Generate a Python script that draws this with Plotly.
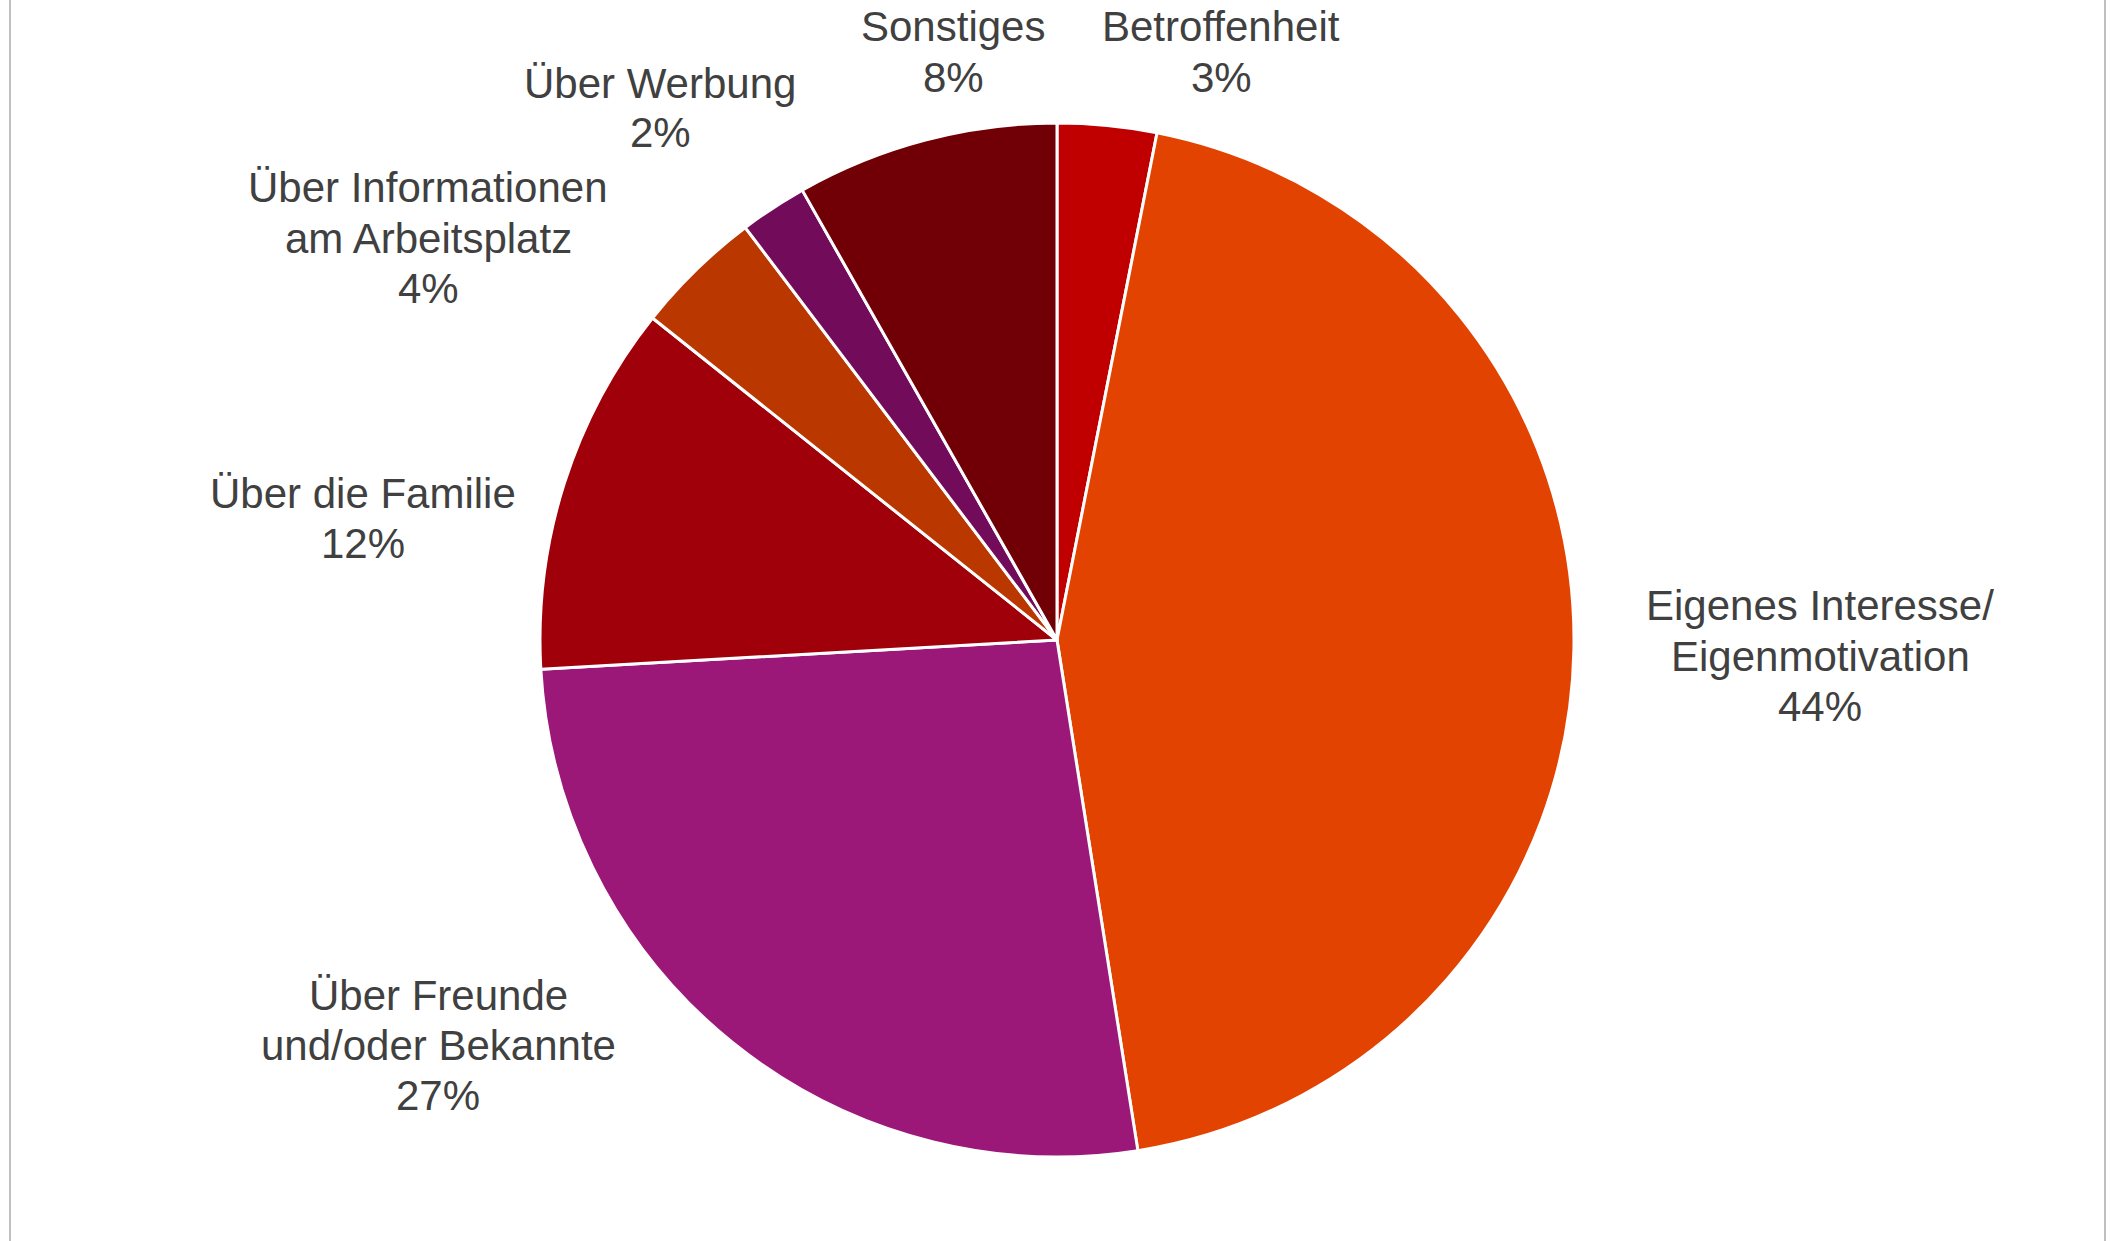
import plotly.graph_objects as go

# ---- data ----
labels = [
    "Betroffenheit",
    "Eigenes Interesse/<br>Eigenmotivation",
    "Über Freunde<br>und/oder Bekannte",
    "Über die Familie",
    "Über Informationen<br>am Arbeitsplatz",
    "Über Werbung",
    "Sonstiges",
]
values = [3.1, 44.4, 26.6, 11.6, 4.0, 2.1, 8.2]
colors = ["#C00000", "#E24300", "#9C1878", "#A0000A", "#BA3700", "#720C5A", "#700005"]

# label anchor positions in page pixels (layout only)
label_pos = [
    (1221, 52),
    (1820, 656),
    (438, 1045),
    (363, 518),
    (428, 238),
    (660, 108),
    (953, 52),
]

W, H = 2111, 1241
cx, cy, R = 1057, 640, 517
LINE = 50
FONT = dict(family="Liberation Sans, Arial, sans-serif", size=42, color="#404040")

fig = go.Figure(
    go.Pie(
        labels=labels,
        values=values,
        sort=False,
        direction="clockwise",
        rotation=0,
        marker=dict(colors=colors, line=dict(color="white", width=3)),
        textinfo="none",
        hoverinfo="label+percent",
        showlegend=False,
        domain=dict(
            x=[(cx - R) / W, (cx + R) / W],
            y=[(H - cy - R) / H, (H - cy + R) / H],
        ),
    )
)

total = sum(values)
annotations = []
for lab, v, (px, py) in zip(labels, values, label_pos):
    pct = int(v / total * 100 + 0.5)
    lines = lab.split("<br>") + [f"{pct}%"]
    n = len(lines)
    for i, line in enumerate(lines):
        ly = py + (i - (n - 1) / 2) * LINE
        annotations.append(
            dict(
                text=line,
                x=px / W,
                y=1 - ly / H,
                xref="paper",
                yref="paper",
                xanchor="center",
                yanchor="middle",
                align="center",
                showarrow=False,
                font=FONT,
            )
        )

shapes = [
    dict(type="line", xref="paper", yref="paper", x0=10 / W, x1=10 / W, y0=0, y1=1,
         line=dict(color="#BFBFBF", width=2)),
    dict(type="line", xref="paper", yref="paper", x0=2105 / W, x1=2105 / W, y0=0, y1=1,
         line=dict(color="#BFBFBF", width=2)),
]

fig.update_layout(
    width=W,
    height=H,
    margin=dict(l=0, r=0, t=0, b=0),
    paper_bgcolor="white",
    plot_bgcolor="white",
    annotations=annotations,
    shapes=shapes,
    font=dict(family="Liberation Sans, Arial, sans-serif", color="#404040"),
)

fig.write_html(
    "out.html",
    config={"displayModeBar": False},
    post_script="document.body.style.margin='0';document.body.style.overflow='hidden';",
)
